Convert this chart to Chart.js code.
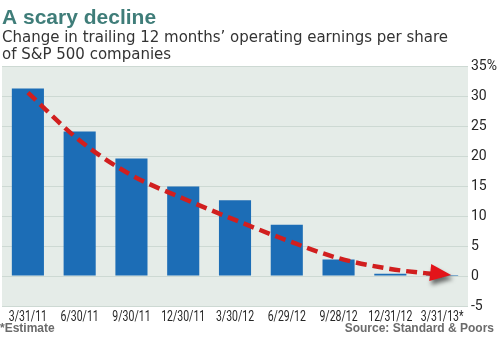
<!DOCTYPE html>
<html>
<head>
<meta charset="utf-8">
<script src="https://cdn.jsdelivr.net/npm/chart.js@4.4.1/dist/chart.umd.min.js"></script>
<style>
  html, body { margin: 0; padding: 0; background: #ffffff; }
  #wrap { width: 500px; height: 349px; }
</style>
</head>
<body>
<div id="wrap"><canvas id="chart"></canvas></div>
<script>
// quarter ends, last one is an estimate
var quarters = ['3/31/11', '6/30/11', '9/30/11', '12/30/11', '3/30/12', '6/29/12', '9/28/12', '12/31/12', '3/31/13*'];
// % change in trailing 12-month operating EPS
var epsChange = [31.4, 24.2, 19.7, 15.0, 12.7, 8.6, 2.8, 0.4, 0.2];
// hand-drawn red trend arrow
var trendLine = [30.7, 22.7, 16.9, 13.0, 9.4, 6.0, 3.0, 1.2, 0.2];
var yTicks = [-5, 0, 5, 10, 15, 20, 25, 30, 35];

var sans = "'Liberation Sans', Arial, sans-serif";
var tickFace = "Roboto, 'Liberation Sans', sans-serif";

// light plot background
var plotBg = {
    id: 'plotBg',
    beforeDraw: function(chart) {
        var a = chart.chartArea, ctx = chart.ctx;
        ctx.save();
        ctx.fillStyle = '#e5ece8';
        ctx.fillRect(a.left, a.top, a.right - a.left, a.bottom - a.top);
        ctx.restore();
    }
};

// x labels in a squeezed (narrow) face, placed from the x scale
var narrowLabels = {
    id: 'narrowLabels',
    afterDraw: function(chart) {
        var x = chart.scales.x, ctx = chart.ctx;
        var y = chart.chartArea.bottom + 11;
        ctx.save();
        ctx.font = '15px ' + tickFace;
        ctx.fillStyle = '#262626';
        ctx.textAlign = 'center';
        ctx.textBaseline = 'middle';
        quarters.forEach(function(lbl, i) {
            var px = x.getPixelForTick(i);
            ctx.save();
            ctx.translate(px, y);
            ctx.scale(0.7, 1);
            ctx.fillText(lbl, 0, 0);
            ctx.restore();
        });
        ctx.restore();
    }
};

// arrow head at the end of the trend line
var arrowHead = {
    id: 'arrowHead',
    afterDatasetsDraw: function(chart) {
        var pts = chart.getDatasetMeta(1).data;
        var p = pts[pts.length - 1], q = pts[pts.length - 2];
        var ang = Math.atan2(p.y - q.y, p.x - q.x);
        var ctx = chart.ctx;
        ctx.save();
        ctx.translate(p.x + 9, p.y);
        ctx.rotate(ang);
        ctx.shadowColor = 'rgba(0,0,0,0.55)';
        ctx.shadowBlur = 4;
        ctx.shadowOffsetX = 2;
        ctx.shadowOffsetY = 4;
        ctx.beginPath();
        ctx.moveTo(0, 0);
        ctx.lineTo(-21, -8.5);
        ctx.lineTo(-21, 8.5);
        ctx.closePath();
        ctx.fillStyle = '#e3141a';
        ctx.fill();
        ctx.restore();
    }
};

// footnotes under the axis
var footnotes = {
    id: 'footnotes',
    afterDraw: function(chart) {
        var ctx = chart.ctx;
        ctx.save();
        ctx.font = 'bold 12px ' + sans;
        ctx.fillStyle = '#6b6b6b';
        ctx.textBaseline = 'middle';
        ctx.textAlign = 'left';
        ctx.fillText('*Estimate', 0, 329);
        ctx.textAlign = 'right';
        ctx.fillText('Source: Standard & Poors', 494, 329);
        ctx.restore();
    }
};

var config = {
    type: 'bar',
    data: {
        labels: quarters,
        datasets: [{
            data: epsChange,
            backgroundColor: '#1c6db6',
            categoryPercentage: 1,
            barPercentage: 0.62,
            order: 1
        }, {
            type: 'line',
            data: trendLine,
            borderColor: '#d11f1f',
            borderWidth: 4.5,
            borderDash: [11, 6],
            cubicInterpolationMode: 'monotone',
            pointRadius: 0,
            fill: false,
            order: 0
        }]
    },
    options: {
        responsive: true,
        maintainAspectRatio: false,
        animation: false,
        layout: {
            padding: { left: 2, right: 0, top: 0, bottom: 23 }
        },
        plugins: {
            legend: { display: false },
            tooltip: { enabled: false },
            title: {
                display: true,
                text: 'A scary decline',
                align: 'start',
                color: '#3f7d79',
                font: { family: sans, size: 21, weight: 'bold', lineHeight: 1 },
                padding: { top: 7.5, bottom: 0 }
            },
            subtitle: {
                display: true,
                text: ['Change in trailing 12 months\u2019 operating earnings per share', 'of S&P 500 companies'],
                align: 'start',
                color: '#333333',
                font: { family: "'DejaVu Sans', Verdana, sans-serif", size: 15, lineHeight: 1.133 },
                padding: { top: 1, bottom: 3.5 }
            }
        },
        scales: {
            x: {
                grid: { display: false },
                border: { display: false },
                ticks: { display: false },
                afterFit: function(scale) { scale.height = 20; }
            },
            y: {
                position: 'right',
                min: -5,
                max: 35,
                afterBuildTicks: function(scale) {
                    scale.ticks = yTicks.map(function(v) { return { value: v }; });
                },
                afterFit: function(scale) { scale.width = 32; },
                grid: { color: '#cdd9d3', lineWidth: 1, drawTicks: false },
                border: { display: false },
                ticks: {
                    color: '#262626',
                    padding: 3,
                    font: { family: tickFace, size: 14 },
                    callback: function(v) { return v === 35 ? '35%' : v; }
                }
            }
        }
    },
    plugins: [plotBg, narrowLabels, arrowHead, footnotes]
};

window.onload = function() {
    var ctx = document.getElementById('chart').getContext('2d');
    window.myChart = new Chart(ctx, config);
};
</script>
</body>
</html>
